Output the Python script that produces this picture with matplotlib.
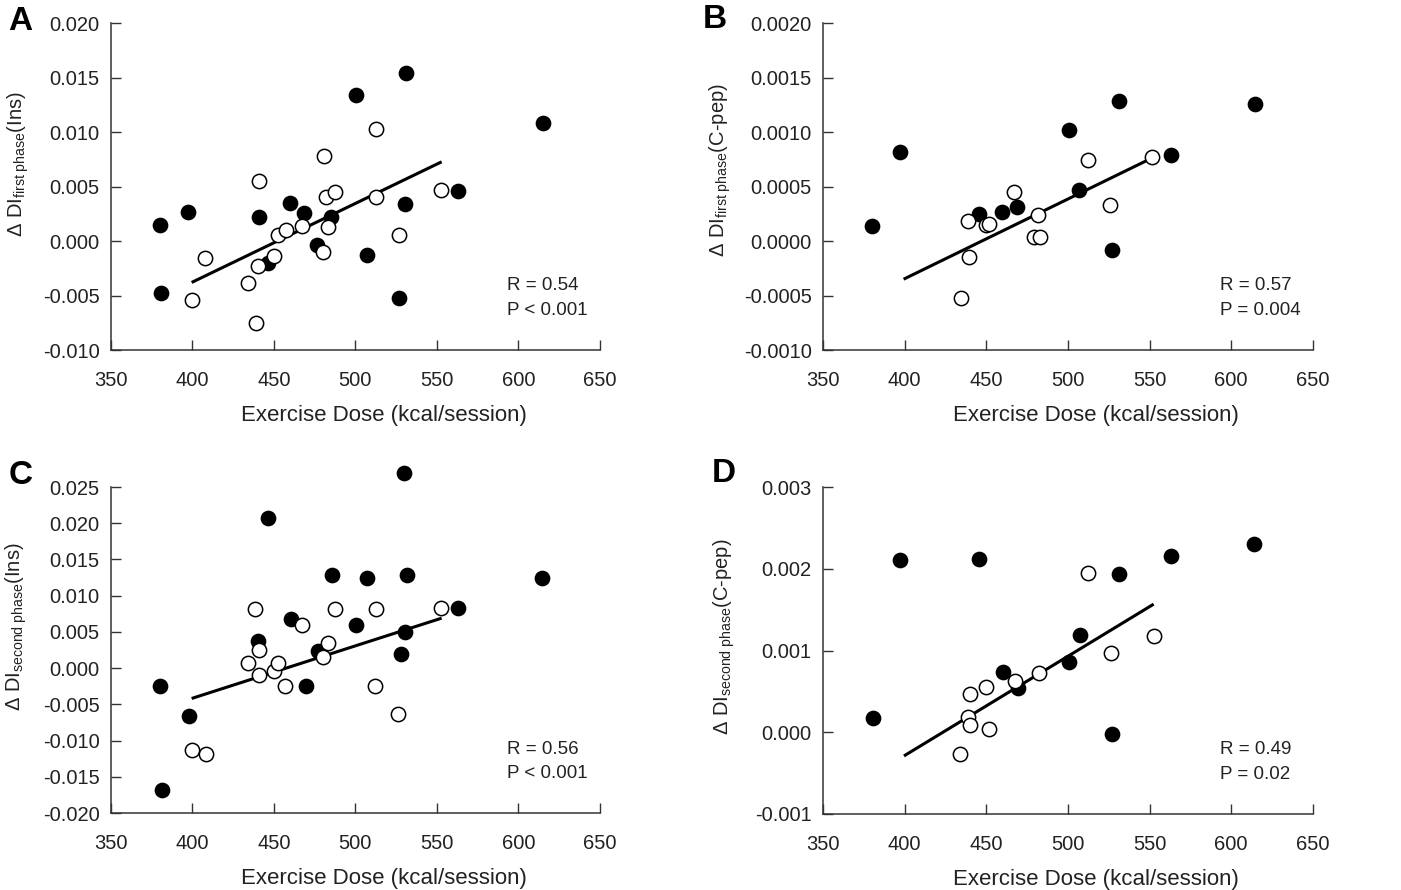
import matplotlib
matplotlib.use("Agg")
import matplotlib.pyplot as plt
from matplotlib.ticker import FormatStrFormatter, MultipleLocator

plt.rcParams['font.family'] = ['Liberation Sans', 'DejaVu Sans']
plt.rcParams['axes.unicode_minus'] = False
plt.rcParams['mathtext.fontset'] = 'custom'
plt.rcParams['mathtext.rm'] = 'Liberation Sans'
plt.rcParams['mathtext.it'] = 'Liberation Sans:italic'

# ---- panel A: first phase, insulin ----
a_fill_x = [380.3, 380.9, 397.4, 440.6, 446.1, 459.8, 468.6, 476.6, 485.0, 500.5, 507.3, 526.9, 530.4, 531.2, 563.1, 614.8]
a_fill_y = [0.00147, -0.00475, 0.00267, 0.00224, -0.00199, 0.00353, 0.00255, -0.0004, 0.00224, 0.0134, -0.00132, -0.00518, 0.00337, 0.01546, 0.00457, 0.01086]
a_open_x = [399.7, 407.7, 434.3, 438.8, 440.2, 440.8, 449.8, 452.5, 457.4, 467.0, 480.3, 480.9, 481.7, 483.1, 487.6, 512.4, 512.8, 526.5, 552.5]
a_open_y = [-0.00543, -0.0016, -0.00387, -0.00755, -0.00233, 0.00555, -0.00138, 0.00058, 0.00104, 0.00135, -0.00101, 0.00776, 0.00408, 0.00126, 0.00448, 0.00402, 0.01031, 0.00052, 0.00472]
a_fit_x = [399.5, 552.9]
a_fit_y = [-0.0038, 0.00727]

# ---- panel B: first phase, C-peptide ----
b_fill_x = [380.2, 396.9, 445.3, 459.8, 468.8, 500.4, 506.5, 526.7, 531.0, 563.1, 614.3]
b_fill_y = [0.000135, 0.000816, 0.000252, 0.000264, 0.000313, 0.001018, 0.000472, -0.000083, 0.001288, 0.000785, 0.001258]
b_open_x = [434.3, 438.6, 439.4, 450.0, 451.8, 467.1, 479.0, 482.7, 481.4, 512.2, 525.7, 551.6]
b_open_y = [-0.000518, 0.000184, -0.00015, 0.000147, 0.00016, 0.000448, 0.000037, 0.000037, 0.000236, 0.000745, 0.000331, 0.000773]
b_fit_x = [399.4, 549.6]
b_fit_y = [-0.00035, 0.000748]

# ---- panel C: second phase, insulin ----
c_fill_x = [380.3, 381.3, 397.6, 440.0, 446.1, 460.2, 469.4, 477.0, 485.4, 500.3, 507.1, 527.7, 529.8, 530.6, 531.4, 562.9, 614.4]
c_fill_y = [-0.00248, -0.01684, -0.00662, 0.00377, 0.0207, 0.00672, -0.00244, 0.0023, 0.01283, 0.00589, 0.01247, 0.00189, 0.02696, 0.00497, 0.01288, 0.00823, 0.01247]
c_open_x = [399.7, 408.3, 434.3, 438.4, 440.6, 440.6, 450.0, 452.5, 457.0, 467.4, 480.3, 483.0, 487.2, 512.0, 512.4, 526.3, 552.5]
c_open_y = [-0.01132, -0.01191, 0.00069, 0.0081, 0.00253, -0.00101, -0.00041, 0.00069, -0.00244, 0.00589, 0.00147, 0.0034, 0.0081, -0.00253, 0.0081, -0.0064, 0.00823]
c_fit_x = [399.5, 552.9]
c_fit_y = [-0.00419, 0.0069]

# ---- panel D: second phase, C-peptide ----
d_fill_x = [380.6, 397.3, 445.5, 460.2, 469.2, 500.4, 507.3, 527.1, 531.0, 562.9, 614.1]
d_fill_y = [0.00018, 0.002106, 0.002118, 0.000735, 0.000543, 0.000857, 0.001184, -0.00002, 0.001939, 0.002151, 0.002302]
d_open_x = [434.1, 438.6, 440.0, 439.8, 449.6, 451.4, 467.3, 482.4, 512.0, 526.1, 552.7]
d_open_y = [-0.000265, 0.000192, 0.00009, 0.000465, 0.000559, 0.000041, 0.000629, 0.000727, 0.001943, 0.000971, 0.001176]
d_fit_x = [399.6, 552.5]
d_fit_y = [-0.00029, 0.001567]

panels = [
    dict(letter='A', rect=[0.0792, 0.6067, 0.3490, 0.3674], fx=a_fill_x, fy=a_fill_y, ox=a_open_x, oy=a_open_y,
         lx=a_fit_x, ly=a_fit_y, ylim=(-0.010, 0.020), step=0.005, fmt='%.3f',
         ylabel=r'$\Delta$ DI$_{\mathrm{first\ phase}}$(Ins)', stats='R = 0.54\nP < 0.001',
         ylab=(-0.164, 0.569), let=(20, 21)),
    dict(letter='B', rect=[0.5874, 0.6067, 0.3497, 0.3674], fx=b_fill_x, fy=b_fill_y, ox=b_open_x, oy=b_open_y,
         lx=b_fit_x, ly=b_fit_y, ylim=(-0.0010, 0.0020), step=0.0005, fmt='%.4f',
         ylabel=r'$\Delta$ DI$_{\mathrm{first\ phase}}$(C-pep)', stats='R = 0.57\nP = 0.004',
         ylab=(-0.184, 0.55), let=(715, 20)),
    dict(letter='C', rect=[0.0792, 0.0865, 0.3490, 0.3663], fx=c_fill_x, fy=c_fill_y, ox=c_open_x, oy=c_open_y,
         lx=c_fit_x, ly=c_fit_y, ylim=(-0.020, 0.025), step=0.005, fmt='%.3f',
         ylabel=r'$\Delta$ DI$_{\mathrm{second\ phase}}$(Ins)', stats='R = 0.56\nP < 0.001',
         ylab=(-0.168, 0.571), let=(21, 475)),
    dict(letter='D', rect=[0.5874, 0.0854, 0.3497, 0.3674], fx=d_fill_x, fy=d_fill_y, ox=d_open_x, oy=d_open_y,
         lx=d_fit_x, ly=d_fit_y, ylim=(-0.001, 0.003), step=0.001, fmt='%.3f',
         ylabel=r'$\Delta$ DI$_{\mathrm{second\ phase}}$(C-pep)', stats='R = 0.49\nP = 0.02',
         ylab=(-0.176, 0.541), let=(724, 473)),
]

fig = plt.figure(figsize=(14.01, 8.90), dpi=100)

for p in panels:
    ax = fig.add_axes(p['rect'])
    ax.plot(p['lx'], p['ly'], color='black', lw=2.2, zorder=2, solid_capstyle='butt')
    ax.plot(p['fx'], p['fy'], 'o', ms=10.3, mfc='black', mec='black', mew=1.0, zorder=3, clip_on=False)
    ax.plot(p['ox'], p['oy'], 'o', ms=10.3, mfc='white', mec='black', mew=1.1, zorder=4, clip_on=False)

    ax.set_xlim(350, 650)
    ax.set_ylim(*p['ylim'])
    ax.xaxis.set_major_locator(MultipleLocator(50))
    ax.yaxis.set_major_locator(MultipleLocator(p['step']))
    ax.yaxis.set_major_formatter(FormatStrFormatter(p['fmt']))
    for s in ['top', 'right']:
        ax.spines[s].set_visible(False)
    for s in ['left', 'bottom']:
        ax.spines[s].set_linewidth(1.1)
        ax.spines[s].set_color('#333333')
    ax.tick_params(direction='in', length=7, width=1.0, color='#333333', labelsize=14.5, labelcolor='#222222')
    ax.tick_params(axis='y', pad=8)
    ax.tick_params(axis='x', pad=15)

    ax.set_xlabel('Exercise Dose (kcal/session)', fontsize=16, color='#222222')
    ax.xaxis.set_label_coords(0.558, -0.168)
    ax.set_ylabel(p['ylabel'], fontsize=14.5, color='#222222')
    ax.yaxis.set_label_coords(p['ylab'][0], p['ylab'][1])

    ax.text(0.81, 0.159, p['stats'], transform=ax.transAxes, ha='left', va='center',
            fontsize=13.5, linespacing=1.55, color='#222222')

    fig.text(p['let'][0] / 1401, 1 - p['let'][1] / 890, p['letter'], fontsize=24, fontweight='bold',
             ha='center', va='center')

fig.savefig('out.png', dpi=100)
